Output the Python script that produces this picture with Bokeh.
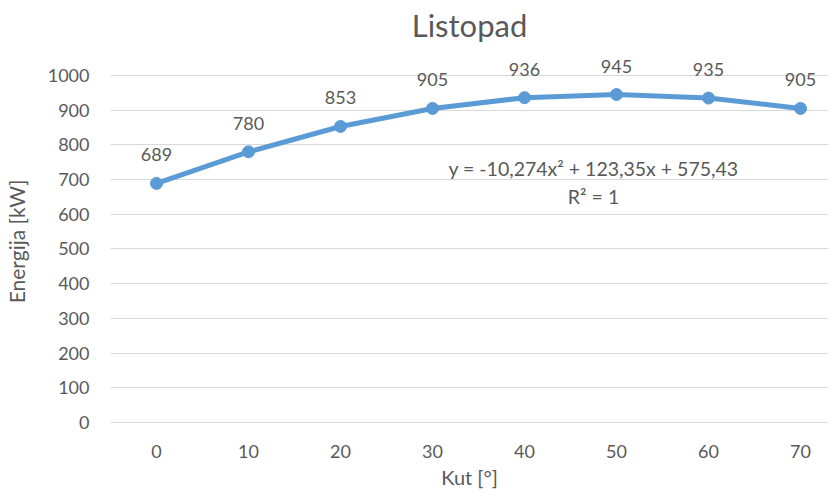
from bokeh.plotting import figure
from bokeh.models import Range1d, FixedTicker, ColumnDataSource, Label
from bokeh.core.properties import value
from bokeh.embed import file_html
from bokeh.resources import INLINE

angles = [0, 10, 20, 30, 40, 50, 60, 70]
energy = [689, 780, 853, 905, 936, 945, 935, 905]
y_ticks = [0, 100, 200, 300, 400, 500, 600, 700, 800, 900, 1000]
title_text = "Listopad"
x_title = "Kut [°]"
y_title = "Energija [kW]"
equation = "y = -10,274x² + 123,35x + 575,43"
r2 = "R² = 1"

FONT = "Lato"
GRAY = "#595959"
BLUE = "#5B9BD5"

src = ColumnDataSource(dict(x=angles, y=energy, lbl=[str(v) for v in energy]))

p = figure(frame_width=718, frame_height=382, output_backend="svg", toolbar_location=None,
           x_range=Range1d(-5, 73.04), y_range=Range1d(-29, 1072),
           min_border_left=0, min_border_right=0, min_border_top=0, min_border_bottom=0)
p.outline_line_color = None
p.title.text = title_text
p.title.align = "center"
p.title.vertical_align = "top"
p.title.text_font = FONT
p.title.text_font_size = "31px"
p.title.text_font_style = "normal"
p.title.text_color = GRAY
p.title.standoff = 10

p.xaxis.ticker = FixedTicker(ticks=angles)
p.yaxis.ticker = FixedTicker(ticks=y_ticks)
for ax in (p.xaxis[0], p.yaxis[0]):
    ax.axis_line_color = None
    ax.major_tick_line_color = None
    ax.minor_tick_line_color = None
    ax.major_tick_out = 0
    ax.major_tick_in = 0
    ax.minor_tick_out = 0
    ax.major_label_text_font = FONT
    ax.major_label_text_font_size = "18px"
    ax.major_label_text_color = GRAY
    ax.axis_label_text_font = FONT
    ax.axis_label_text_font_size = "21px"
    ax.axis_label_text_font_style = "normal"
    ax.axis_label_text_color = GRAY
p.xaxis.axis_label = x_title
p.yaxis.axis_label = y_title
p.xaxis.axis_label_text_font_size = "20px"
p.xaxis.major_label_standoff = 12
p.yaxis.major_label_standoff = 21
p.xaxis.axis_label_standoff = 4
p.yaxis.axis_label_standoff = 16

p.xgrid.grid_line_color = None
p.ygrid.grid_line_color = "#D9D9D9"
p.ygrid.grid_line_width = 1

p.line("x", "y", source=src, line_color=BLUE, line_width=5)
p.scatter("x", "y", source=src, size=12, fill_color=BLUE, line_color=BLUE)
p.text("x", "y", text="lbl", source=src, text_align="center", text_baseline="bottom",
       y_offset=-22, text_font=value(FONT), text_font_size="18px", text_color=GRAY)

p.add_layout(Label(x=47.5, y=732, text=equation, text_align="center", text_baseline="middle",
                   text_font=FONT, text_font_size="19.5px", text_color=GRAY))
p.add_layout(Label(x=47.5, y=651, text=r2, text_align="center", text_baseline="middle",
                   text_font=FONT, text_font_size="19.5px", text_color=GRAY))

open("out.html", "w").write(file_html(p, INLINE))
